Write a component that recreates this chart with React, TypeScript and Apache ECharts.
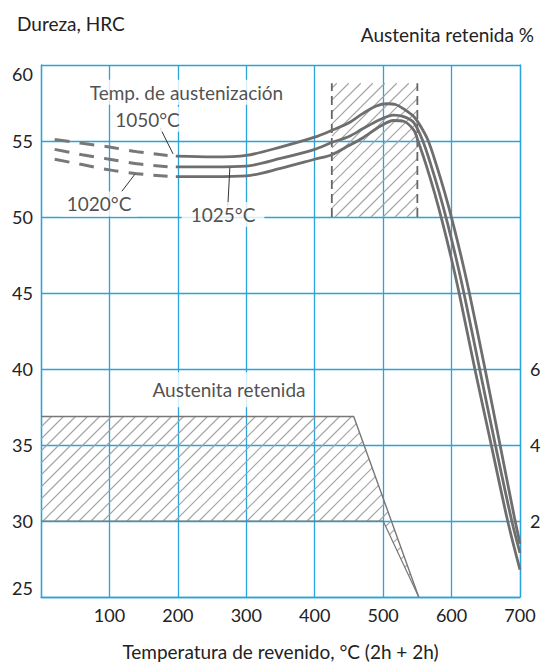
import React, { useEffect, useRef } from 'react';
import * as echarts from 'echarts';

// ---- data ----
const hrc1050Dashed = [[20, 55.1], [60, 54.85], [100, 54.6], [140, 54.3], [185, 54.05]];
const hrc1050Solid = [[197, 54.0], [250, 53.95], [300, 54.05], [350, 54.6], [400, 55.25], [425, 55.7], [450, 56.2], [470, 56.8], [490, 57.3], [505, 57.45], [518, 57.4], [532, 57.05], [545, 56.6], [555, 55.95], [566, 55.0], [578, 53.4], [590, 51.6], [602, 49.6], [614, 47.4], [626, 45.0], [648, 40.2], [670, 35.2], [692, 30.2], [700, 28.5]];
const hrc1025Dashed = [[20, 54.45], [60, 54.1], [100, 53.8], [140, 53.5], [185, 53.3]];
const hrc1025Solid = [[197, 53.3], [250, 53.3], [300, 53.35], [350, 53.85], [400, 54.45], [425, 54.9], [450, 55.3], [470, 55.8], [495, 56.4], [515, 56.7], [530, 56.6], [545, 56.2], [558, 55.0], [570, 53.4], [582, 51.6], [594, 49.6], [606, 47.4], [618, 45.0], [641, 40.0], [664, 35.0], [688, 30.0], [700, 27.9]];
const hrc1020Dashed = [[20, 53.8], [60, 53.45], [100, 53.1], [140, 52.85], [185, 52.68]];
const hrc1020Solid = [[197, 52.65], [250, 52.65], [300, 52.7], [350, 53.2], [400, 53.8], [425, 54.1], [450, 54.7], [470, 55.2], [495, 55.95], [515, 56.35], [530, 56.3], [545, 55.7], [551, 55.0], [563, 53.4], [575, 51.6], [587, 49.6], [599, 47.4], [611, 45.0], [634, 40.0], [658, 35.0], [682, 30.0], [700, 26.8]];

// tempering range hatch (HRC axis)
const temperHatch = [[425, 50], [550, 50], [550, 58.8], [425, 58.8]];
const temperLeftEdge = [[425, 50], [425, 58.8]];
const temperRightEdge = [[550, 50], [550, 58.8]];

// retained austenite (% axis)
const austeniteBand = [[0, 2], [0, 4.75], [457, 4.75], [512, 2]];
const austeniteWedge = [[500, 2], [512, 2], [552, 0]];
const austeniteOutline = [[0, 4.75], [457, 4.75], [552, 0]];
const austeniteBase = [[0, 2], [500, 2]];
const austeniteInner = [[500, 2], [552, 0]];

// labels
const annotations = [
  { text: 'Temp. de austenización', pos: [212.6, 58.2], pad: [3, 30, 3, 30] },
  { text: '1050°C', pos: [155.6, 56.43], pad: [3, 4, 3, 4] },
  { text: '1020°C', pos: [84.8, 50.86], pad: [3, 6, 3, 6] },
  { text: '1025°C', pos: [266, 50.17], pad: [3, 9, 3, 9] },
  { text: 'Austenita retenida', pos: [274.7, 38.64], pad: [8, 4, 8, 4] },
];
const leader1050 = [[174, 55.87], [193, 54.15]];
const leader1020 = [[118, 51.68], [137, 52.8]];
const leader1025 = [[273, 50.7], [276, 53.25]];

const xMin = 0, xMax = 700, xStep = 100;
const yMin = 25, yMax = 60, yStep = 5;
const rMin = 0, rMax = 14, rStep = 2;
const rLabels = [2, 4, 6];

const BLUE = '#2aa3dc';
const FONT = 'Lato';
const TXT = '#222';
const TEXT_SIZE = 19;
const TICK_SIZE = 18;

function hatchRender(polys: number[][][], spacing: number) {
  return (params: any, api: any) => {
    const poly = polys[params.dataIndex];
    const pts = poly.map((p) => api.coord(p));
    const children: any[] = [];
    let minC = Infinity, maxC = -Infinity;
    pts.forEach((p: number[]) => {
      const c = p[0] + p[1];
      minC = Math.min(minC, c);
      maxC = Math.max(maxC, c);
    });
    const start = Math.ceil(minC / spacing) * spacing;
    for (let c = start; c <= maxC; c += spacing) {
      const hits: number[][] = [];
      for (let i = 0; i < pts.length; i++) {
        const a = pts[i], b = pts[(i + 1) % pts.length];
        const fa = a[0] + a[1] - c, fb = b[0] + b[1] - c;
        if ((fa <= 0 && fb > 0) || (fa > 0 && fb <= 0)) {
          const t = fa / (fa - fb);
          hits.push([a[0] + t * (b[0] - a[0]), a[1] + t * (b[1] - a[1])]);
        }
      }
      if (hits.length >= 2) {
        hits.sort((u, v) => u[0] - v[0]);
        const p1 = hits[0], p2 = hits[hits.length - 1];
        children.push({
          type: 'line',
          shape: { x1: p1[0], y1: p1[1], x2: p2[0], y2: p2[1] },
          style: { stroke: '#a2a2a2', lineWidth: 1.1 },
        });
      }
    }
    return { type: 'group', children };
  };
}

const solidStyle = { color: '#6e6e6e', width: 2.8 };
const dashStyle = { color: '#787878', width: 3, type: [15, 10] as any };

function lineSeries(data: number[][], lineStyle: any, yAxisIndex = 0, smooth: any = 0.3, z = 5) {
  return {
    type: 'line',
    data,
    yAxisIndex,
    smooth,
    symbol: 'none',
    lineStyle,
    z,
    silent: true,
  };
}

export default function App() {
  const ref = useRef<HTMLDivElement>(null);
  useEffect(() => {
    document.body.style.margin = '0';
    const chart = echarts.init(ref.current!, undefined, { renderer: 'svg' });
    const axisLabel = { fontFamily: FONT, fontSize: TICK_SIZE, color: TXT };
    const titleStyle = { fontFamily: FONT, fontSize: TEXT_SIZE, fontWeight: 'normal', color: TXT };
    const option: any = {
      animation: false,
      title: [
        { text: 'Dureza, HRC', left: 12, top: 9, textStyle: titleStyle },
        { text: 'Austenita retenida %', right: 6, top: 20, textStyle: titleStyle },
      ],
      grid: { left: 41, right: 25, top: 65, bottom: 67 },
      xAxis: {
        type: 'value', min: xMin, max: xMax, interval: xStep,
        name: 'Temperatura de revenido, °C (2h + 2h)', nameLocation: 'middle', nameGap: 45,
        nameTextStyle: { fontFamily: FONT, fontSize: TEXT_SIZE, color: TXT },
        axisLine: { show: true, lineStyle: { color: BLUE, width: 1.3 } },
        axisTick: { show: false },
        splitLine: { show: true, lineStyle: { color: BLUE, width: 1.3 } },
        axisLabel: { ...axisLabel, margin: 9, formatter: (v: number) => (v === 0 ? '' : String(v)) },
      },
      yAxis: [
        {
          type: 'value', min: yMin, max: yMax, interval: yStep,
          axisLine: { show: true, lineStyle: { color: BLUE, width: 1.3 } },
          axisTick: { show: false },
          splitLine: { show: true, lineStyle: { color: BLUE, width: 1.3 } },
          axisLabel: { ...axisLabel, margin: 8, verticalAlignMaxLabel: 'top', verticalAlignMinLabel: 'bottom' },
        },
        {
          type: 'value', min: rMin, max: rMax, interval: rStep, position: 'right',
          axisLine: { show: true, lineStyle: { color: BLUE, width: 1.3 } },
          axisTick: { show: false },
          splitLine: { show: false },
          axisLabel: { ...axisLabel, margin: 10, formatter: (v: number) => (rLabels.includes(v) ? String(v) : '') },
        },
      ],
      series: [
        {
          type: 'custom', yAxisIndex: 0, silent: true, z: 2,
          renderItem: hatchRender([temperHatch], 12),
          data: [temperHatch[0]],
        },
        {
          type: 'custom', yAxisIndex: 1, silent: true, z: 2,
          renderItem: hatchRender([austeniteBand, austeniteWedge], 12),
          data: [austeniteBand[0], austeniteWedge[0]],
        },
        lineSeries(temperLeftEdge, { color: '#666', width: 1.8, type: [9, 5] }, 0, false, 3),
        lineSeries(temperRightEdge, { color: '#666', width: 1.8, type: [9, 5] }, 0, false, 3),
        lineSeries(austeniteOutline, { color: '#777', width: 1.4 }, 1, false, 3),
        lineSeries(austeniteBase, { color: '#777', width: 1.2 }, 1, false, 3),
        lineSeries(austeniteInner, { color: '#777', width: 1.2 }, 1, false, 3),
        lineSeries(hrc1050Dashed, dashStyle),
        lineSeries(hrc1050Solid, solidStyle),
        lineSeries(hrc1025Dashed, dashStyle),
        lineSeries(hrc1025Solid, solidStyle),
        lineSeries(hrc1020Dashed, dashStyle),
        lineSeries(hrc1020Solid, solidStyle),
        lineSeries(leader1050, { color: '#333', width: 1 }, 0, false, 8),
        lineSeries(leader1020, { color: '#333', width: 1 }, 0, false, 8),
        lineSeries(leader1025, { color: '#333', width: 1 }, 0, false, 8),
        {
          type: 'scatter', symbolSize: 0, silent: true, z: 10,
          data: annotations.map((a) => ({
            value: a.pos,
            label: {
              show: true, position: 'inside', formatter: a.text,
              fontFamily: FONT, fontSize: TEXT_SIZE, color: TXT, lineHeight: 19,
              backgroundColor: '#fff', padding: a.pad,
            },
          })),
        },
      ],
    };
    chart.setOption(option);
    return () => chart.dispose();
  }, []);
  return <div ref={ref} style={{ width: 545, height: 666 }} />;
}
